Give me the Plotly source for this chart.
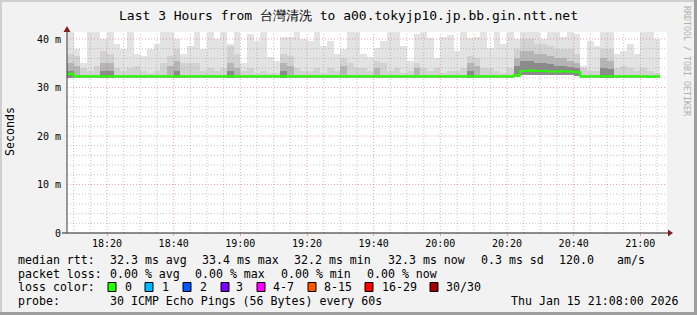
import plotly.graph_objects as go
from datetime import datetime, timedelta

# ---------------- data ----------------
title_text = "Last 3 Hours from 台灣清洗 to a00.tokyjp10.jp.bb.gin.ntt.net"
start_time = "2026-01-15 18:08:00"
end_time = "2026-01-15 21:08:00"
step_minutes = 2

# smoke band tops (ms) per 2-minute step
smoke_top = [41.5, 38, 35, 41.5, 41.5, 40, 41.5, 39, 38, 41.5,
             37, 36.5, 38, 39, 41.5, 41.5, 40, 37, 38.5, 41.5,
             38, 41.5, 40, 41.5, 38.9, 41.5, 35, 41, 39.6, 41.5,
             36.2, 35.5, 40.5, 40.5, 41.5, 40, 39.6, 41.5, 38.5, 39.6,
             37, 38, 41.5, 41.5, 37, 36.2, 38.2, 39.6, 41.5, 41.5,
             38.5, 35.5, 41, 41.5, 40.3, 36, 40.5, 40.8, 37.5, 41.5,
             40.3, 40.5, 41.5, 38.2, 41.5, 38.9, 41.5, 40, 41.5, 41.5,
             41.5, 40, 41.5, 41.5, 40.5, 41.5, 41, 34.5, 39.6, 38.5,
             41.5, 41.5, 37, 37.5, 39, 37, 41.5, 41.5, 40]
smoke_mid = [37, 36.5, 34, 33.5, 34.5, 37.5, 37, 34, 33.5, 34,
             34.5, 33.5, 33, 33.5, 35, 36.5, 38, 35, 35, 35,
             33.5, 34, 33.5, 34, 38.5, 37, 33.5, 34, 33, 33.5,
             33, 33, 37, 36.5, 34, 33.5, 33.5, 34, 33, 34,
             33.5, 36, 35, 34, 34, 33.5, 35.5, 35, 33.5, 34,
             33, 33.5, 35, 34, 33.5, 34, 33, 33.5, 33.5, 34,
             36.5, 36, 34, 34, 33.5, 33, 34, 38, 40, 40,
             39, 39, 38.5, 38, 38, 38, 37, 34, 33.5, 33.5,
             38, 38, 34, 34.5, 34, 33.5, 34, 33.5, 33]
smoke_dark = [35, 34.5, 32.6, 32.6, 32.6, 35, 35, 32.6, 32.6, 32.6,
              32.6, 32.6, 32.6, 32.6, 32.6, 34.5, 35.5, 32.6, 32.6, 32.6,
              32.6, 32.6, 32.6, 32.6, 35, 34, 32.6, 32.6, 32.6, 32.6,
              32.6, 32.6, 35, 34.5, 32.6, 32.6, 32.6, 32.6, 32.6, 32.6,
              32.6, 34.5, 32.6, 32.6, 32.6, 32.6, 34, 32.6, 32.6, 32.6,
              32.6, 32.6, 34, 32.6, 32.6, 32.6, 32.6, 32.6, 32.6, 32.6,
              35, 34.5, 32.6, 32.6, 32.6, 32.6, 32.6, 36, 37.5, 37.5,
              37, 37, 36.5, 36, 36, 35.5, 35, 32.6, 32.6, 32.6,
              36, 35.5, 32.6, 32.6, 32.6, 32.6, 32.6, 32.6, 32.6]
smoke_darker = [33.5, 0, 0, 0, 0, 33.5, 33.5, 0, 0, 0,
                0, 0, 0, 0, 0, 0, 33.5, 0, 0, 0,
                0, 0, 0, 0, 33.5, 0, 0, 0, 0, 0,
                0, 0, 33.5, 0, 0, 0, 0, 0, 0, 0,
                0, 0, 0, 0, 0, 0, 0, 0, 0, 0,
                0, 0, 0, 0, 0, 0, 0, 0, 0, 0,
                33.5, 0, 0, 0, 0, 0, 0, 34.5, 35.5, 35.5,
                35, 35, 34.8, 34.5, 34.5, 34.3, 34, 0, 0, 0,
                34, 33.8, 0, 0, 0, 0, 0, 0, 0]
smoke_base = [31.9, 31.9, 31.9, 31.9, 31.9, 31.9, 31.9, 31.9, 31.9, 31.9,
              31.9, 31.9, 31.9, 31.9, 31.9, 31.9, 31.9, 31.9, 31.9, 31.9,
              31.9, 31.9, 31.9, 31.9, 31.9, 31.9, 31.9, 31.9, 31.9, 31.9,
              31.9, 31.9, 31.9, 31.9, 31.9, 31.9, 31.9, 31.9, 31.9, 31.9,
              31.9, 31.9, 31.9, 31.9, 31.9, 31.9, 31.9, 31.9, 31.9, 31.9,
              31.9, 31.9, 31.9, 31.9, 31.9, 31.9, 31.9, 31.9, 31.9, 31.9,
              31.9, 31.9, 31.9, 31.9, 31.9, 31.9, 31.9, 32.1, 32.5, 32.5,
              32.5, 32.5, 32.5, 32.5, 32.5, 32.5, 32.4, 31.9, 31.9, 31.9,
              31.9, 31.9, 31.9, 31.9, 31.9, 31.9, 31.9, 31.9, 31.9]
median_rtt = [32.8, 32.3, 32.3, 32.3, 32.3, 32.3, 32.3, 32.3, 32.3, 32.3,
              32.3, 32.3, 32.3, 32.3, 32.3, 32.3, 32.3, 32.3, 32.3, 32.3,
              32.3, 32.3, 32.3, 32.3, 32.3, 32.3, 32.3, 32.3, 32.3, 32.3,
              32.3, 32.3, 32.3, 32.3, 32.3, 32.3, 32.3, 32.3, 32.3, 32.3,
              32.3, 32.3, 32.3, 32.3, 32.3, 32.3, 32.3, 32.3, 32.3, 32.3,
              32.3, 32.3, 32.3, 32.3, 32.3, 32.3, 32.3, 32.3, 32.3, 32.3,
              32.3, 32.3, 32.3, 32.3, 32.3, 32.3, 32.3, 32.5, 33.4, 33.5,
              33.4, 33.4, 33.3, 33.3, 33.35, 33.3, 33.2, 32.3, 32.3, 32.3,
              32.3, 32.3, 32.3, 32.3, 32.3, 32.3, 32.3, 32.2, 32.3]

y_tickvals = [0, 10, 20, 30, 40]
y_ticktext = ["0", "10 m", "20 m", "30 m", "40 m"]
x_ticktext = ["18:20", "18:40", "19:00", "19:20", "19:40", "20:00", "20:20", "20:40", "21:00"]

rtt_stats = ["32.3 ms avg", "33.4 ms max", "32.2 ms min", "32.3 ms now", "0.3 ms sd", "120.0", "am/s"]
loss_stats = ["0.00 % avg", "0.00 % max", "0.00 % min", "0.00 % now"]
loss_labels = ["0", "1", "2", "3", "4-7", "8-15", "16-29", "30/30"]
loss_colors = ["#26ff00", "#00b8ff", "#0059ff", "#7e00ff", "#ff00ff", "#ff5500", "#ff0000", "#a10000"]
probe_text = "30 ICMP Echo Pings (56 Bytes) every 60s"
stamp_text = "Thu Jan 15 21:08:00 2026"

# ---------------- layout geometry (pixels) ----------------
W, H = 697, 315
PL, PR, PT, PB = 67, 667, 32, 233
Y_MAX = (PB - PT) / 4.85
FONT = "DejaVu Sans Mono"


def xp(px):
    return (px - PL) / (PR - PL)


def yp(py):
    return (PB - py) / (PB - PT)


t0 = datetime.strptime(start_time, "%Y-%m-%d %H:%M:%S")
t_end = datetime.strptime(end_time, "%Y-%m-%d %H:%M:%S")
n = len(smoke_top)
col_start = [t0 + timedelta(minutes=step_minutes * i) for i in range(n)]
col_mid = [t + timedelta(minutes=step_minutes / 2) for t in col_start]
bar_w = step_minutes * 60 * 1000

fig = go.Figure()


def band(tops, color):
    ys = [max(t - b, 0) for t, b in zip(tops, smoke_base)]
    fig.add_trace(go.Bar(x=col_mid, y=ys, base=smoke_base, width=bar_w,
                         marker=dict(color=color, line=dict(width=0)),
                         hoverinfo="skip", showlegend=False))


band(smoke_top, "#e3e3e3")
band(smoke_mid, "#d2d2d2")
band(smoke_dark, "#b5b5b5")
band(smoke_darker, "#8a8a8a")

line_x = col_start + [col_start[-1] + timedelta(minutes=step_minutes)]
line_y = median_rtt + [median_rtt[-1]]
fig.add_trace(go.Scatter(x=line_x, y=line_y, mode="lines", line_shape="hv",
                         line=dict(color="#26ff00", width=2.2),
                         hoverinfo="skip", showlegend=False))

shapes = []
# grid (drawn above the smoke as rrdtool does)
minor_col = "rgba(143,143,143,0.5)"
major_col = "rgba(222,79,79,0.5)"
t = t0
while t <= t_end:
    if t.minute % 5 == 0 and t > t0:
        col = major_col if t.minute % 20 == 0 else minor_col
        shapes.append(dict(type="line", xref="x", yref="paper", x0=t, x1=t, y0=0, y1=1,
                           line=dict(color=col, width=1, dash="1px,2px"), layer="above"))
    t += timedelta(minutes=1)
for v in range(2, int(Y_MAX) + 1, 2):
    col = major_col if v % 10 == 0 else minor_col
    shapes.append(dict(type="line", xref="paper", yref="y", x0=0, x1=1, y0=v, y1=v,
                       line=dict(color=col, width=1, dash="1px,2px"), layer="above"))

# axes + arrows
shapes.append(dict(type="line", xref="paper", yref="paper", x0=xp(62), x1=xp(669), y0=0, y1=0,
                   line=dict(color="#1f1f1f", width=1), layer="above"))
shapes.append(dict(type="line", xref="paper", yref="paper", x0=0, x1=0, y0=0, y1=yp(28),
                   line=dict(color="#3a3a3a", width=1), layer="above"))
shapes.append(dict(type="path", xref="paper", yref="paper",
                   path=f"M {xp(668)},{yp(229.5)} L {xp(673)},{yp(233)} L {xp(668)},{yp(236.5)} Z",
                   fillcolor="#801f1f", line=dict(width=0), layer="above"))
shapes.append(dict(type="path", xref="paper", yref="paper",
                   path=f"M {xp(63.5)},{yp(32)} L {xp(67)},{yp(26)} L {xp(70.5)},{yp(32)} Z",
                   fillcolor="#801f1f", line=dict(width=0), layer="above"))

# 3D border
shapes.append(dict(type="rect", xref="paper", yref="paper", x0=xp(0), x1=xp(2), y0=yp(0), y1=yp(H),
                   fillcolor="#cfcfcf", line=dict(width=0), layer="above"))
shapes.append(dict(type="rect", xref="paper", yref="paper", x0=xp(0), x1=xp(W), y0=yp(0), y1=yp(2),
                   fillcolor="#cfcfcf", line=dict(width=0), layer="above"))
shapes.append(dict(type="rect", xref="paper", yref="paper", x0=xp(W - 3), x1=xp(W), y0=yp(0), y1=yp(H),
                   fillcolor="#9e9e9e", line=dict(width=0), layer="above"))
shapes.append(dict(type="rect", xref="paper", yref="paper", x0=xp(0), x1=xp(W), y0=yp(H - 3), y1=yp(H),
                   fillcolor="#9e9e9e", line=dict(width=0), layer="above"))

annotations = []


def txt(s, x, y, size=11.6, anchor="left", color="#000000", angle=0):
    annotations.append(dict(text=s, x=xp(x), y=yp(y), xref="paper", yref="paper",
                            xanchor=anchor, yanchor="middle", showarrow=False,
                            textangle=angle,
                            font=dict(family=FONT, size=size, color=color)))


txt(title_text, 348, 15, size=13, anchor="center")
txt("Seconds", 10, 132, angle=-90, anchor="center")
txt("RRDTOOL / TOBI OETIKER", 687, 61, size=8.3, anchor="center", color="#b0b0b0", angle=90)

row_y = [260, 273.5, 287, 300.5]
txt("median rtt:", 16, row_y[0])
for s, x in zip(rtt_stats, [107.6, 200, 292, 386, 479, 557, 615]):
    txt(s, x, row_y[0])
txt("packet loss:", 16, row_y[1])
for s, x in zip(loss_stats, [107.6, 193, 279, 365]):
    txt(s, x, row_y[1])
txt("loss color:", 16, row_y[2])
for s, c, bx, lx in zip(loss_labels, loss_colors,
                        [108, 145, 183, 221, 257, 308, 365, 430],
                        [123, 160, 198, 234, 271, 322, 380, 444]):
    shapes.append(dict(type="rect", xref="paper", yref="paper",
                       x0=xp(bx), x1=xp(bx + 8), y0=yp(row_y[2] + 4.5), y1=yp(row_y[2] - 4.5),
                       fillcolor=c, line=dict(color="#000000", width=1), layer="above"))
    txt(s, lx, row_y[2])
txt("probe:", 16, row_y[3])
txt(probe_text, 107.6, row_y[3])
txt(stamp_text, 681, row_y[3], anchor="right")

x_tickvals = [datetime.strptime(start_time[:11] + s, "%Y-%m-%d %H:%M") for s in x_ticktext]

fig.update_layout(
    width=W, height=H, autosize=False,
    margin=dict(l=PL, r=W - PR, t=PT, b=H - PB, pad=0),
    paper_bgcolor="#f2f2f2", plot_bgcolor="#ffffff",
    barmode="overlay", bargap=0,
    shapes=shapes, annotations=annotations,
    xaxis=dict(type="date", range=[t0, t_end], tickvals=x_tickvals, ticktext=x_ticktext,
               showgrid=False, zeroline=False, showline=False,
               ticks="outside", ticklen=2, tickcolor="rgba(222,79,79,0.5)",
               ticklabelstandoff=-1,
               tickfont=dict(family=FONT, size=10, color="#000000"), fixedrange=True),
    yaxis=dict(range=[0, Y_MAX], tickvals=y_tickvals, ticktext=y_ticktext,
               showgrid=False, zeroline=False, showline=False, ticks="",
               ticklabelstandoff=5,
               tickfont=dict(family=FONT, size=10, color="#000000"), fixedrange=True),
    showlegend=False,
)

fig.write_html("out.html")
